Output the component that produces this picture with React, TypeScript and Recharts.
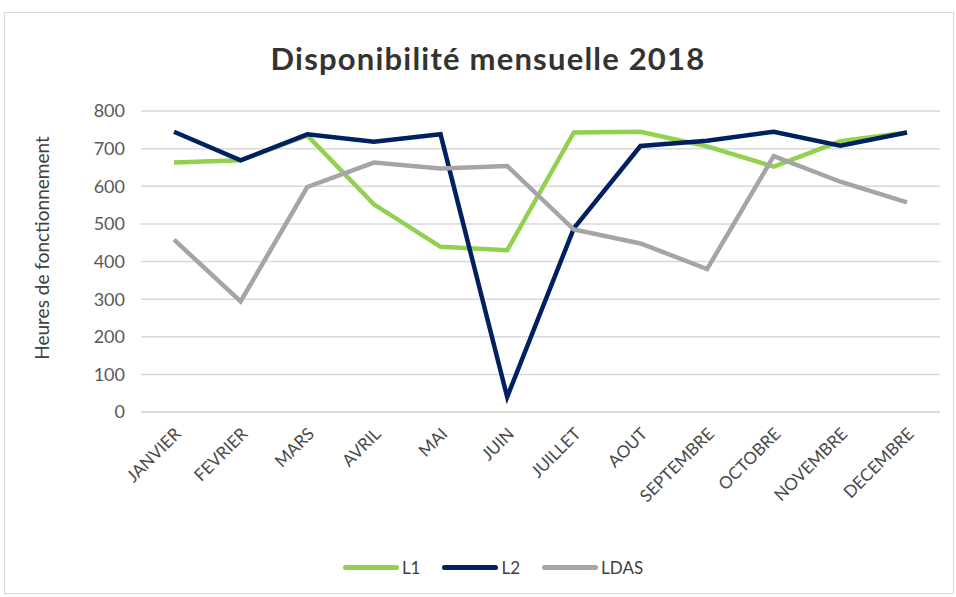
import { LineChart, Line, XAxis, YAxis, CartesianGrid } from "recharts";

const months = [
  "JANVIER", "FEVRIER", "MARS", "AVRIL", "MAI", "JUIN",
  "JUILLET", "AOUT", "SEPTEMBRE", "OCTOBRE", "NOVEMBRE", "DECEMBRE",
];
const l1 = [663, 669, 735, 552, 439, 430, 743, 745, 706, 652, 720, 743];
const l2 = [745, 669, 738, 718, 738, 40, 488, 707, 721, 745, 708, 743];
const ldas = [458, 294, 598, 663, 647, 654, 485, 448, 380, 680, 612, 557];
const yTicks = [0, 100, 200, 300, 400, 500, 600, 700, 800];

const SERIES = [
  { key: "L1", color: "#92D050" },
  { key: "L2", color: "#002060" },
  { key: "LDAS", color: "#A5A5A5" },
];

const data = months.map((m, i) => ({ month: m, L1: l1[i], L2: l2[i], LDAS: ldas[i] }));

const FONT = "Lato, 'Open Sans', sans-serif";

function MonthTick(props: any) {
  const { x, y, payload } = props;
  const tx = x + 8;
  const ty = y + 15;
  return (
    <text
      x={tx}
      y={ty}
      transform={`rotate(-45, ${tx}, ${ty})`}
      textAnchor="end"
      fontSize={17}
      fill="#4a4a4a"
      fontFamily={FONT}
    >
      {payload.value}
    </text>
  );
}

export default function App() {
  return (
    <div style={{ position: "relative", width: 956, height: 597, background: "#fff", fontFamily: FONT }}>
      <style>{`body{margin:0}`}</style>
      <div
        style={{
          position: "absolute", left: 4, top: 12, width: 950, height: 582,
          border: "1px solid #D9D9D9", boxSizing: "border-box",
        }}
      />
      <div
        style={{
          position: "absolute", top: 39, left: 0, width: 976, textAlign: "center",
          fontSize: 31, fontWeight: 700, color: "#333333", letterSpacing: 1.2,
        }}
      >
        Disponibilité mensuelle 2018
      </div>
      <div
        style={{
          position: "absolute", left: 41, top: 248, width: 0, height: 0,
        }}
      >
        <div
          style={{
            position: "absolute", transform: "translate(-50%, -50%) rotate(-90deg)",
            whiteSpace: "nowrap", fontSize: 19, color: "#404040",
          }}
        >
          Heures de fonctionnement
        </div>
      </div>
      <div style={{ position: "absolute", left: 0, top: 0 }}>
        <LineChart
          width={956}
          height={597}
          data={data}
          margin={{ top: 111, right: 16, bottom: 85, left: 81 }}
        >
          <CartesianGrid vertical={false} stroke="#D9D9D9" strokeWidth={1.5} />
          <XAxis
            dataKey="month"
            interval={0}
            height={100}
            padding={{ left: 33, right: 33 }}
            tick={<MonthTick />}
            tickLine={false}
            axisLine={{ stroke: "#D9D9D9", strokeWidth: 1.5 }}
          />
          <YAxis
            domain={[0, 800]}
            ticks={yTicks}
            width={60}
            tickLine={false}
            axisLine={false}
            tick={{ fontSize: 18, fill: "#595959", fontFamily: FONT }}
            tickMargin={10}
          />
          {SERIES.map((s) => (
            <Line
              key={s.key}
              dataKey={s.key}
              type="linear"
              stroke={s.color}
              strokeWidth={4.5}
              dot={false}
              isAnimationActive={false}
            />
          ))}
        </LineChart>
      </div>
      <div
        style={{
          position: "absolute", top: 557, left: 0, width: 956, display: "flex",
          justifyContent: "center", paddingLeft: 30, boxSizing: "border-box",
          gap: 22, fontSize: 17, color: "#404040",
        }}
      >
        {SERIES.map((s) => (
          <div key={s.key} style={{ display: "flex", alignItems: "center", gap: 3 }}>
            <div style={{ width: 56, height: 5, borderRadius: 3, background: s.color }} />
            <span>{s.key}</span>
          </div>
        ))}
      </div>
    </div>
  );
}
